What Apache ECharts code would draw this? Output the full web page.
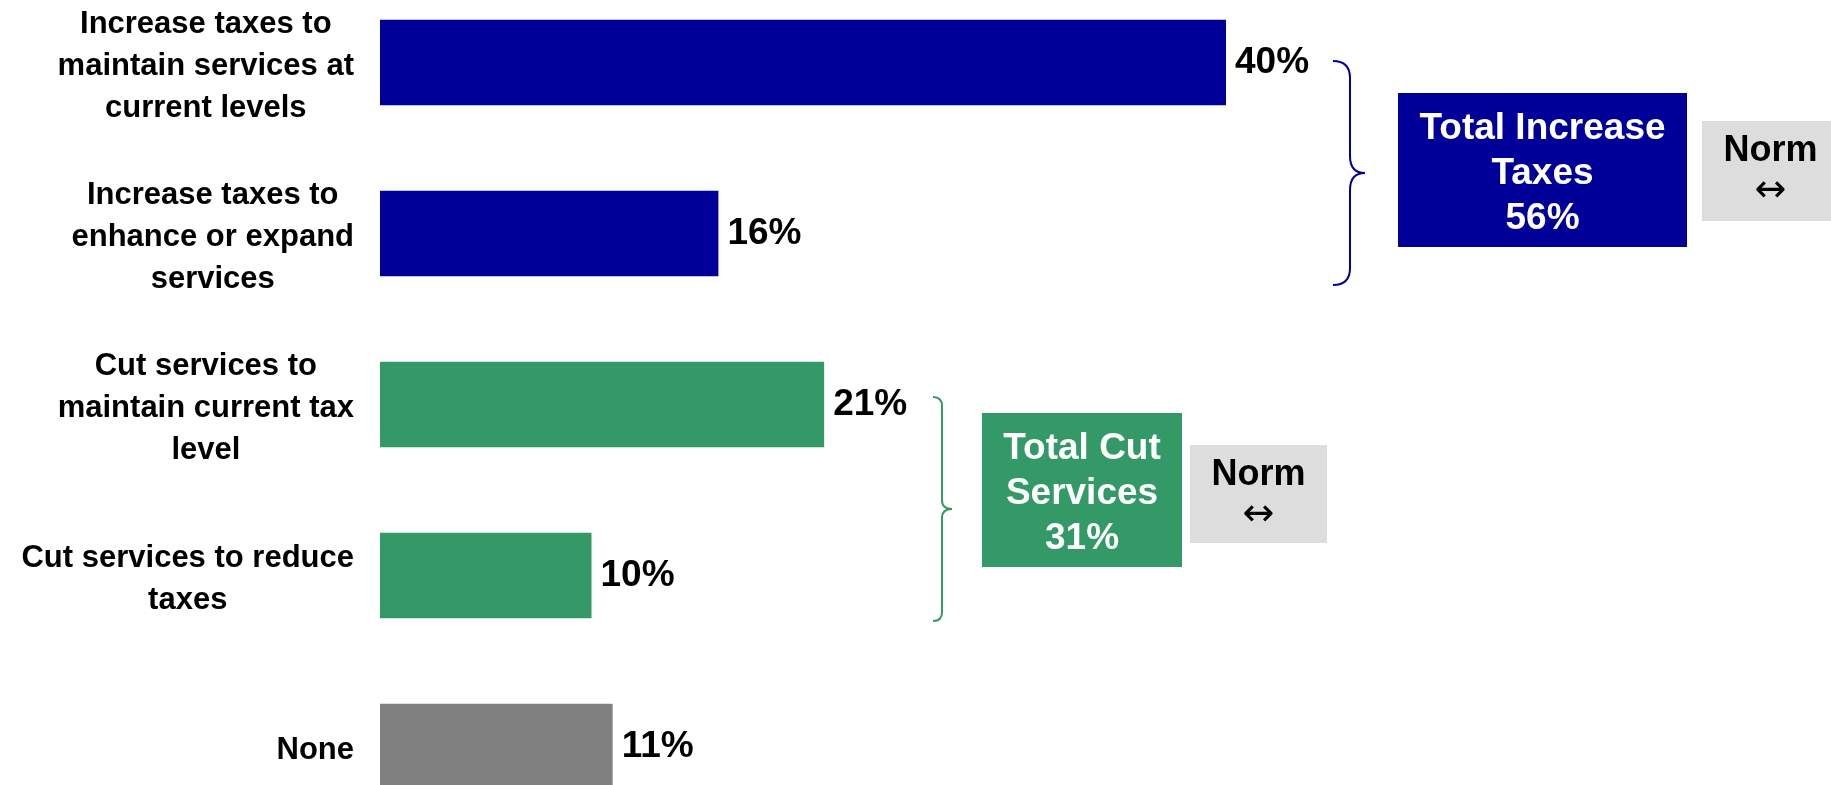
<!DOCTYPE html>
<html>
<head>
<meta charset="utf-8">
<script src="https://cdn.jsdelivr.net/npm/echarts@6/dist/echarts.min.js"></script>
<style>
  html, body { margin: 0; padding: 0; background: #fff; }
  #main { width: 1831px; height: 785px; }
</style>
</head>
<body>
<div id="main"></div>
<script>
// answer options, top to bottom
const categories = [
    'Increase taxes to\nmaintain services at\ncurrent levels',
    'Increase taxes to\nenhance or expand\nservices',
    'Cut services to\nmaintain current tax\nlevel',
    'Cut services to reduce\ntaxes',
    'None'
];
const values = [40, 16, 21, 10, 11];
const barColors = ['#000099', '#000099', '#339966', '#339966', '#808080'];

// group totals shown in the boxes
const groupNames = ['Total Increase\nTaxes', 'Total Cut\nServices'];
const groupTotals = [56, 31];
const normText = 'Norm';

const FONT = '"Liberation Sans", Arial, sans-serif';
const BLUE = '#000099';
const GREEN = '#339966';

const chart = echarts.init(document.getElementById('main'));

// curly brace opening to the left, tip pointing right
function brace(x0, x1, xt, y0, y1, color) {
    const ym = (y0 + y1) / 2;
    const r = x1 - x0;
    const st = { stroke: color, lineWidth: 2, fill: null };
    const curve = (ax, ay, bx, by, cx, cy) => ({
        type: 'bezierCurve',
        shape: { x1: ax, y1: ay, x2: bx, y2: by, cpx1: cx, cpy1: cy },
        style: st
    });
    const line = (ay, by) => ({ type: 'line', shape: { x1: x1, y1: ay, x2: x1, y2: by }, style: st });
    return {
        type: 'group',
        children: [
            curve(x0, y0, x1, y0 + r, x1, y0),
            line(y0 + r, ym - r),
            curve(x1, ym - r, xt, ym, x1, ym),
            curve(xt, ym, x1, ym + r, x1, ym),
            line(ym + r, y1 - r),
            curve(x1, y1 - r, x0, y1, x1, y1)
        ]
    };
}

function box(x, y, w, h, color, text, textColor) {
    return {
        type: 'group',
        children: [
            { type: 'rect', shape: { x: x, y: y, width: w, height: h }, style: { fill: color } },
            {
                type: 'text', x: x + w / 2, y: y + h / 2 + 4,
                style: {
                    text: text, fill: textColor, font: `bold 37px ${FONT}`,
                    lineHeight: 45, align: 'center', verticalAlign: 'middle'
                }
            }
        ]
    };
}

function normBox(x, y, w, h) {
    return {
        type: 'group',
        children: [
            { type: 'rect', shape: { x: x, y: y, width: w, height: h }, style: { fill: '#dddddd' } },
            {
                type: 'text', x: x + w / 2, y: y + 30,
                style: { text: normText, fill: '#000', font: `bold 36px ${FONT}`, align: 'center', verticalAlign: 'middle' }
            },
            {
                type: 'text', x: x + w / 2, y: y + 70,
                style: { text: '\u2194', fill: '#000', font: `38px "DejaVu Sans", sans-serif`, align: 'center', verticalAlign: 'middle' }
            }
        ]
    };
}

const option = {
    backgroundColor: '#fff',
    animation: false,
    grid: { left: 380, top: -23, width: 1269, height: 855, outerBoundsMode: 'none', containLabel: false },
    xAxis: {
        type: 'value', min: 0, max: 60,
        show: false
    },
    yAxis: {
        type: 'category',
        inverse: true,
        data: categories,
        axisLine: { show: false },
        axisTick: { show: false },
        splitLine: { show: false },
        axisLabel: {
            margin: 26,
            align: 'right',
            padding: [7, 0, 0, 0],
            formatter: v => v.split('\n').map(l => '{c|' + l + '}').join('\n'),
            rich: {
                c: { align: 'center', fontSize: 31, fontWeight: 'bold', fontFamily: FONT, color: '#000', lineHeight: 42 }
            }
        }
    },
    series: [{
        type: 'bar',
        barCategoryGap: '50%',
        data: values.map((v, i) => ({ value: v, itemStyle: { color: barColors[i] } })),
        label: {
            show: true,
            position: 'right',
            distance: 9,
            padding: [3, 0, 0, 0],
            formatter: '{c}%',
            fontSize: 37,
            fontWeight: 'bold',
            fontFamily: FONT,
            color: '#000'
        }
    }],
    graphic: [
        brace(1333, 1350, 1365, 61, 285, BLUE),
        box(1398, 93, 289, 154, BLUE, groupNames[0] + '\n' + groupTotals[0] + '%', '#fff'),
        normBox(1702, 121, 137, 100),
        brace(933, 942, 952, 397, 621, GREEN),
        box(982, 413, 200, 154, GREEN, groupNames[1] + '\n' + groupTotals[1] + '%', '#fff'),
        normBox(1190, 445, 137, 98)
    ]
};

chart.setOption(option);
</script>
</body>
</html>
